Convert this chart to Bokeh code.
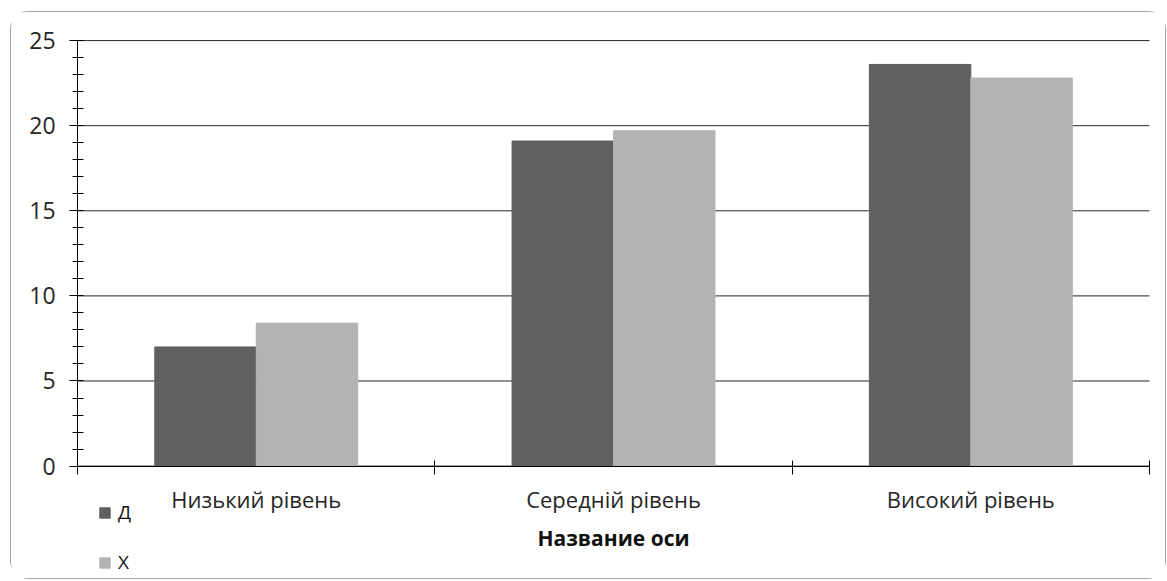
from bokeh.plotting import figure
from bokeh.models import ColumnDataSource, FixedTicker, LinearAxis, Legend, LegendItem, Range1d
from bokeh.embed import file_html
from bokeh.resources import INLINE

categories = ["Низький рівень", "Середній рівень", "Високий рівень"]
series_names = ["Д", "Х"]
values_d = [7.0, 19.1, 23.6]
values_x = [8.4, 19.7, 22.8]
colors = ["#606060", "#b3b3b3"]
y_ticks = [0, 5, 10, 15, 20, 25]
x_axis_title = "Название оси"

FONT = "Open Sans"
n = len(categories)
y_max = 25
centers = [i + 0.5 for i in range(n)]
bar_w = 0.284

# layout geometry (pixels inside the figure canvas)
W, H = 1156, 568
canvas_w, canvas_h = W - 2, H - 2
plot_left, plot_right = 66, 1136      # canvas px of data x = 0 and x = n
plot_top, plot_bottom = 28, 452       # canvas px of data y = y_max and y = 0
x_scale = (plot_right - plot_left) / n
y_scale = (plot_bottom - plot_top) / y_max
x_start = -plot_left / x_scale
x_end = n + (canvas_w - plot_right) / x_scale
y_start = -(canvas_h - plot_bottom) / y_scale
y_end = y_max + plot_top / y_scale

p = figure(width=W, height=H, output_backend="svg", toolbar_location=None,
           x_range=Range1d(x_start, x_end), y_range=Range1d(y_start, y_end),
           x_axis_type=None, y_axis_type=None,
           min_border_left=0, min_border_right=0, min_border_top=0, min_border_bottom=0)
p.margin = (11, 0, 0, 10)
p.outline_line_color = None
p.background_fill_color = "white"
p.border_fill_color = "white"
p.xgrid.visible = False
p.ygrid.visible = False
p.styles = {"border": "1px solid #a6a6a6", "border-radius": "18px", "box-sizing": "border-box"}

# horizontal gridlines at the major y ticks, spanning the category area
p.segment(x0=[0] * len(y_ticks), x1=[n] * len(y_ticks), y0=y_ticks, y1=y_ticks,
          line_color="#262626", line_width=1)

src_d = ColumnDataSource(dict(x=[c - bar_w / 2 for c in centers], top=values_d))
src_x = ColumnDataSource(dict(x=[c + bar_w / 2 for c in centers], top=values_x))
r_d = p.vbar(x="x", top="top", width=bar_w, source=src_d, fill_color=colors[0], line_color=colors[0])
r_x = p.vbar(x="x", top="top", width=bar_w, source=src_x, fill_color=colors[1], line_color=colors[1])

# y axis
yaxis = LinearAxis(ticker=FixedTicker(ticks=y_ticks, minor_ticks=list(range(0, y_max + 1))),
                   fixed_location=0, bounds=(0, y_max))
yaxis.axis_line_color = "black"
yaxis.major_tick_line_color = "black"
yaxis.major_tick_in = 0
yaxis.major_tick_out = 8
yaxis.minor_tick_line_color = "black"
yaxis.minor_tick_in = 6
yaxis.minor_tick_out = 5
yaxis.major_label_text_font = FONT
yaxis.major_label_text_font_size = "23px"
yaxis.major_label_text_color = "#262626"
yaxis.major_label_standoff = 14
p.add_layout(yaxis, "left")

# x axis
xaxis = LinearAxis(ticker=FixedTicker(ticks=centers, minor_ticks=list(range(n + 1))),
                   fixed_location=0, bounds=(0, n))
xaxis.major_label_overrides = {c: cat for c, cat in zip(centers, categories)}
xaxis.axis_line_color = "black"
xaxis.major_tick_line_color = None
xaxis.major_tick_in = 0
xaxis.major_tick_out = 8
xaxis.minor_tick_line_color = "black"
xaxis.minor_tick_in = 6
xaxis.minor_tick_out = 8
xaxis.major_label_text_font = FONT
xaxis.major_label_text_font_size = "22px"
xaxis.major_label_text_color = "#262626"
xaxis.major_label_standoff = 10
xaxis.axis_label = x_axis_title
xaxis.axis_label_text_font = FONT
xaxis.axis_label_text_font_style = "bold"
xaxis.axis_label_text_font_size = "21px"
xaxis.axis_label_text_color = "#111111"
xaxis.axis_label_standoff = 6
p.add_layout(xaxis, "below")

legend = Legend(items=[LegendItem(label=series_names[0], renderers=[r_d]),
                       LegendItem(label=series_names[1], renderers=[r_x])],
                location=(87, 5), orientation="vertical",
                padding=0, margin=0, spacing=24, glyph_width=13, glyph_height=13,
                label_text_font=FONT, label_text_font_size="19px", label_text_color="#111111",
                border_line_color=None, background_fill_alpha=0, label_standoff=7, label_height=16)
p.add_layout(legend, "center")

open("out.html", "w").write(file_html(p, INLINE))
